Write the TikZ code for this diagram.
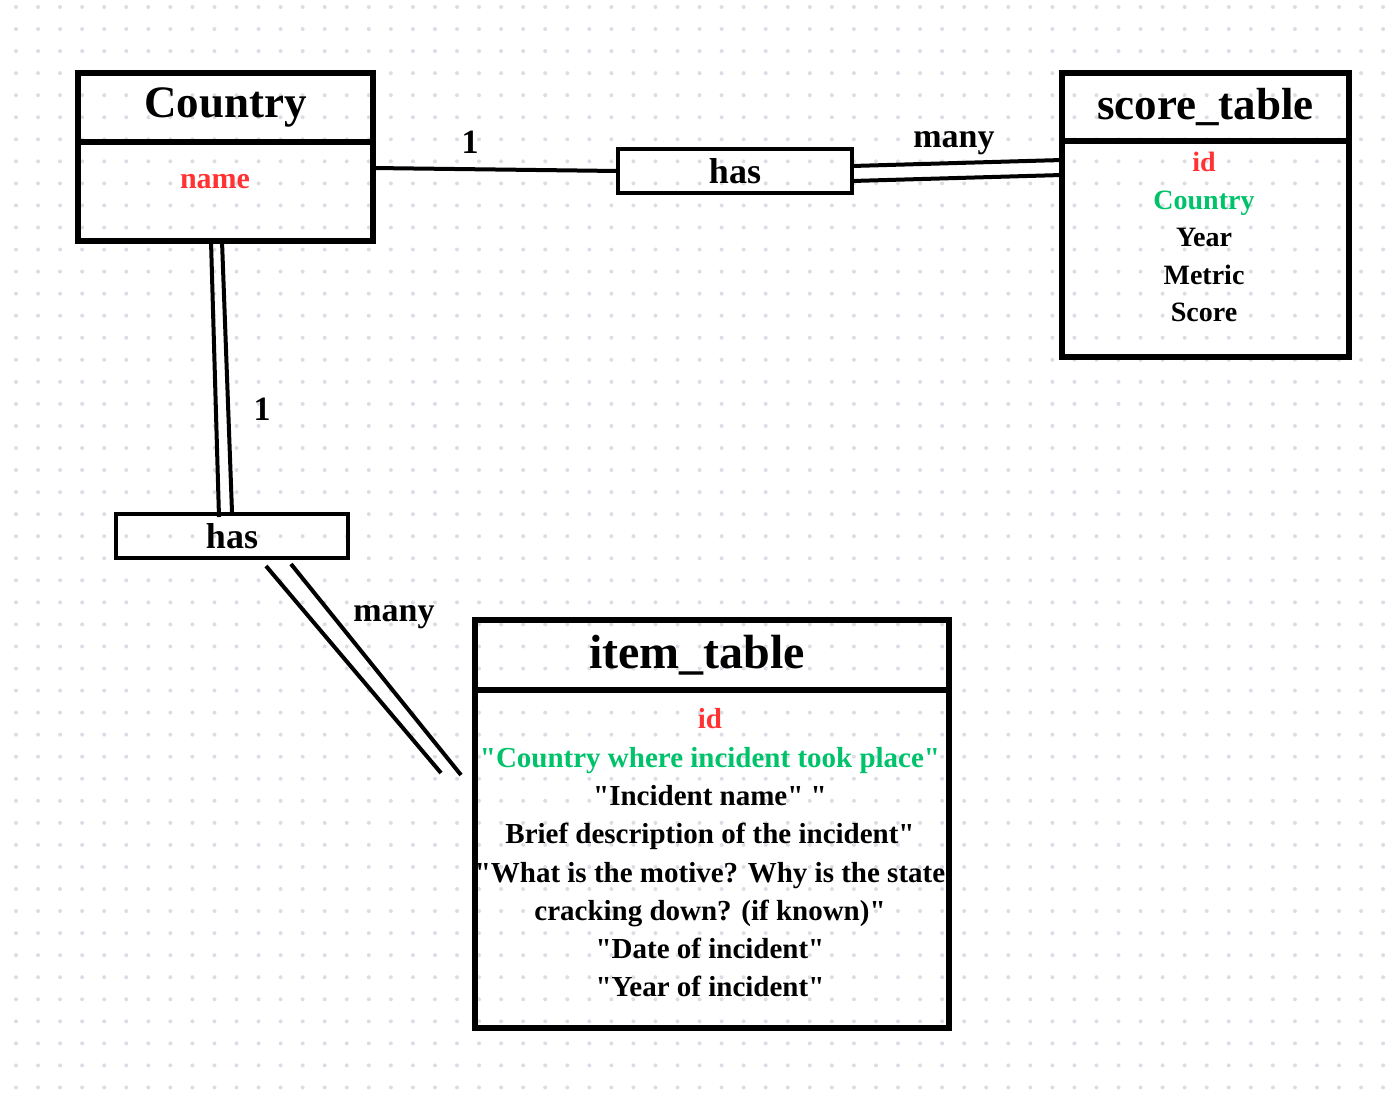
\documentclass[tikz,border=0pt]{standalone}
\usepackage{fontspec}
\setmainfont[Ligatures=TeXOff]{Liberation Serif}
\usepackage{xcolor}
\usetikzlibrary{positioning,calc}
\definecolor{keyred}{HTML}{FF3333}
\definecolor{fkgreen}{HTML}{00C26A}
\definecolor{dotgray}{HTML}{DADDE5}

\begin{document}
\begin{tikzpicture}[
  x=0.5pt, y=-0.5pt,
  node distance = 0pt,
  head/.style   = {draw, line width=3pt, minimum width=#1, minimum height=34.5pt,
                   inner sep=0pt, outer sep=0pt,
                   font=\fontsize{22.5}{24}\selectfont\bfseries},
  body/.style   = {draw, line width=3pt, minimum width=#1,
                   inner sep=0pt, outer sep=0pt},
  attr/.style   = {align=center, inner sep=0pt,
                   font=\fontsize{14}{18.75}\selectfont\bfseries},
  rel/.style    = {draw, line width=2pt, minimum width=#1, minimum height=22pt,
                   inner sep=0pt, outer sep=0pt,
                   font=\fontsize{18}{20}\selectfont\bfseries},
  card/.style   = {anchor=base, inner sep=0pt, font=\fontsize{17}{19}\selectfont\bfseries},
  link/.style   = {line width=2pt},
]
\useasboundingbox (0,0) rectangle (1400,1102);
\foreach \i in {0,...,62}
  \foreach \j in {0,...,49}
    \fill[dotgray] (16+22.05*\i, 7+22.05*\j) circle (1pt);

\node[head=147.5pt] (country) at (225.5,107.5) {Country};
\node[body=147.5pt, minimum height=49.5pt, below=of country] (cbody) {};
\node[attr, text=keyred, font=\fontsize{15}{18}\selectfont\bfseries] (cname) at (215,182) {name};

\node[head=143.5pt, minimum height=34pt] (score) at (1205.5,107) {score\_table};
\node[body=143.5pt, minimum height=108pt, below=of score] (sbody) {};
\node[attr] (sattr) at (1204,237)
     {\textcolor{keyred}{id}\\ \textcolor{fkgreen}{Country}\\ Year\\ Metric\\ Score};

\node[head=237pt, minimum height=35pt, font=\fontsize{24}{26}\selectfont\bfseries] (item) at (712,655)
     {item\_table\kern15pt};
\node[body=237pt, minimum height=169pt, below=of item] (ibody) {};
\node[attr, font=\fontsize{14.5}{19.15}\selectfont\bfseries] (iattr) at (710,853)
     {\textcolor{keyred}{id}\\
      \textcolor{fkgreen}{"Country where incident took place"}\\
      "Incident name" "\\
      Brief description of the incident"\\
      "What is the motive? Why is the state\\
      cracking down? (if known)"\\
      "Date of incident"\\
      "Year of incident"};

\node[rel=117pt] (has1) at (735,171) {has};
\node[rel=116pt] (has2) at (232,536) {has};

\draw[link] ([yshift=11.75pt]cbody.east) -- (has1.west);
\draw[link] ([yshift=2.5pt]has1.east) -- ([yshift=-9.5pt]score.south west);
\draw[link] ([yshift=-5pt]has1.east) -- ([yshift=-17pt]score.south west);

\draw[link] ([xshift=-7.25pt]cbody.south) -- ([xshift=-6.5pt,yshift=-1.5pt]has2.north);
\draw[link] ([xshift=-1.75pt]cbody.south) -- ([yshift=1pt]has2.north);

\draw[link] ([xshift=17pt,yshift=-4pt]has2.south) -- ([xshift=-17pt,yshift=43pt]ibody.west);
\draw[link] ([xshift=29.5pt,yshift=-3pt]has2.south) -- ([xshift=-7pt,yshift=42pt]ibody.west);

\node[card] (one1) at (470,153) {1};
\node[card] (many1) at (954,148) {many};
\node[card] (one2) at (262,420) {1};
\node[card] (many2) at (394,621) {many};
\end{tikzpicture}
\end{document}
